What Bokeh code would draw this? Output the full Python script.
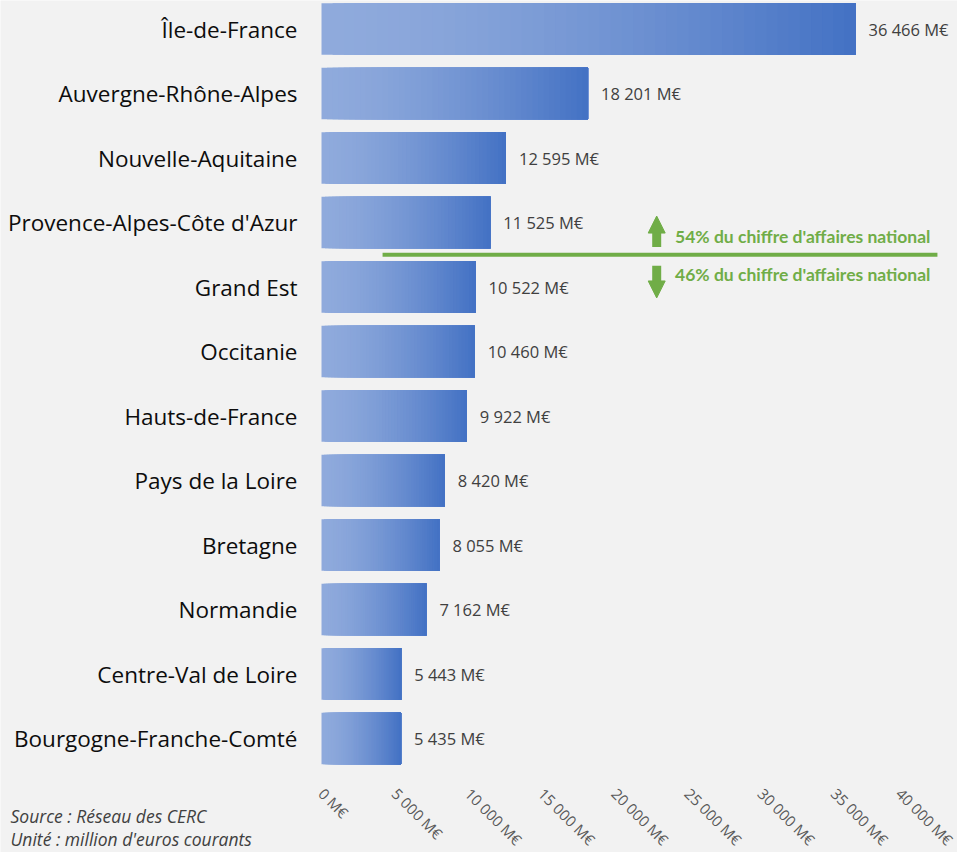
import math
from bokeh.plotting import figure
from bokeh.models import Range1d, FixedTicker, Label, Arrow, NormalHead
from bokeh.core.properties import value
from bokeh.embed import file_html
from bokeh.resources import INLINE

# ---- data ----
regions = [
    "Île-de-France", "Auvergne-Rhône-Alpes", "Nouvelle-Aquitaine",
    "Provence-Alpes-Côte d'Azur", "Grand Est", "Occitanie", "Hauts-de-France",
    "Pays de la Loire", "Bretagne", "Normandie", "Centre-Val de Loire",
    "Bourgogne-Franche-Comté",
]
ca_meur = [36466, 18201, 12595, 11525, 10522, 10460, 9922, 8420, 8055, 7162, 5443, 5435]
tick_values = [0, 5000, 10000, 15000, 20000, 25000, 30000, 35000, 40000]
tick_labels = ["0 M€", "5 000 M€", "10 000 M€", "15 000 M€", "20 000 M€",
               "25 000 M€", "30 000 M€", "35 000 M€", "40 000 M€"]
split_after = "Provence-Alpes-Côte d'Azur"
share_above = "54% du chiffre d'affaires national"
share_below = "46% du chiffre d'affaires national"
source_lines = ["Source : Réseau des CERC", "Unité : million d'euros courants"]

GREEN = "#70AD47"
BG = "#F2F2F2"
FONT = "Open Sans"

n = len(regions)
ypos = [n - 1 - i for i in range(n)]          # Île-de-France on top

W, H = 957, 852
PITCH = 64.5                                   # px per category
PXU = 0.014644                                 # px per M€
X0 = 321                                       # px of the value 0
p = figure(width=W, height=H,
           x_range=Range1d(-X0 / PXU, (W - X0) / PXU),
           y_range=Range1d((n - 1) + 28.5 / PITCH - H / PITCH, (n - 1) + 28.5 / PITCH),
           output_backend="svg", toolbar_location=None,
           min_border_left=0, min_border_right=0,
           min_border_top=0, min_border_bottom=0,
           background_fill_color=BG, border_fill_color=BG,
           outline_line_color=None)
p.title.visible = False
p.grid.visible = False

# gradient bars: stacked slices, each from its start to the bar end
c0 = (143, 170, 220)
c1 = (68, 114, 196)
N = 48
ys, lefts, rights, cols = [], [], [], []
for yv, v in zip(ypos, ca_meur):
    for i in range(N):
        t = (i / (N - 1)) ** 1.5
        c = tuple(round(a + (b - a) * t) for a, b in zip(c0, c1))
        ys.append(yv)
        lefts.append(v * i / N)
        rights.append(v)
        cols.append("#%02x%02x%02x" % c)
p.hbar(y=ys, left=lefts, right=rights, height=0.8, fill_color=cols, line_color=None)

# value labels
val_labels = [f"{v:,}".replace(",", " ") + " M€" for v in ca_meur]
p.text(x=ca_meur, y=ypos, text=val_labels, x_offset=13,
       text_baseline="middle", text_align="left",
       text_font=value(FONT), text_font_size="16.5px", text_color="#404040")

# x axis (fixed at the bottom edge of the last bar slot)
p.xaxis.fixed_location = -0.5
p.xaxis.ticker = FixedTicker(ticks=tick_values)
p.xaxis.major_label_overrides = dict(zip(tick_values, tick_labels))
p.xaxis.major_label_orientation = -math.pi / 4
p.xaxis.axis_line_color = None
p.xaxis.major_tick_line_color = None
p.xaxis.minor_tick_line_color = None
p.xaxis.major_tick_out = 0
p.xaxis.major_tick_in = 0
p.xaxis.major_label_text_font = FONT
p.xaxis.major_label_text_font_size = "15px"
p.xaxis.major_label_text_color = "#595959"
p.xaxis.major_label_standoff = 20

# y axis (region names) fixed at value 0
p.yaxis.fixed_location = 0
p.yaxis.ticker = FixedTicker(ticks=ypos)
p.yaxis.major_label_overrides = dict(zip(ypos, regions))
p.yaxis.axis_line_color = None
p.yaxis.major_tick_line_color = None
p.yaxis.minor_tick_line_color = None
p.yaxis.major_tick_out = 0
p.yaxis.major_tick_in = 0
p.yaxis.major_label_text_font = FONT
p.yaxis.major_label_text_font_size = "22.5px"
p.yaxis.major_label_text_color = "#0d0d0d"
p.yaxis.major_label_standoff = 24

# split line + arrows + texts
y_split = ypos[regions.index(split_after)] - 0.5
p.segment(x0=[4170], y0=[y_split], x1=[42060], y1=[y_split],
          line_color=GREEN, line_width=4)
xa = 22890
p.add_layout(Arrow(x_start=xa, y_start=y_split + 0.12, x_end=xa, y_end=y_split + 0.6,
                   line_color=GREEN, line_width=9,
                   end=NormalHead(size=17, fill_color=GREEN, line_color=GREEN, line_width=1)))
p.add_layout(Arrow(x_start=xa, y_start=y_split - 0.17, x_end=xa, y_end=y_split - 0.67,
                   line_color=GREEN, line_width=9,
                   end=NormalHead(size=17, fill_color=GREEN, line_color=GREEN, line_width=1)))
p.add_layout(Label(x=24140, y=y_split + 0.28, text=share_above,
                   text_baseline="middle", text_font="Lato", text_font_style="bold",
                   text_font_size="17.5px", text_color=GREEN))
p.add_layout(Label(x=24140, y=y_split - 0.31, text=share_below,
                   text_baseline="middle", text_font="Lato", text_font_style="bold",
                   text_font_size="17.5px", text_color=GREEN))

# source
for k, line in enumerate(source_lines):
    p.add_layout(Label(x=10, y=37 - 23 * k, x_units="screen", y_units="screen",
                       text=line, text_baseline="middle", text_font=FONT,
                       text_font_style="italic", text_font_size="17.5px",
                       text_color="#404040"))

open("out.html", "w").write(file_html(p, INLINE))
